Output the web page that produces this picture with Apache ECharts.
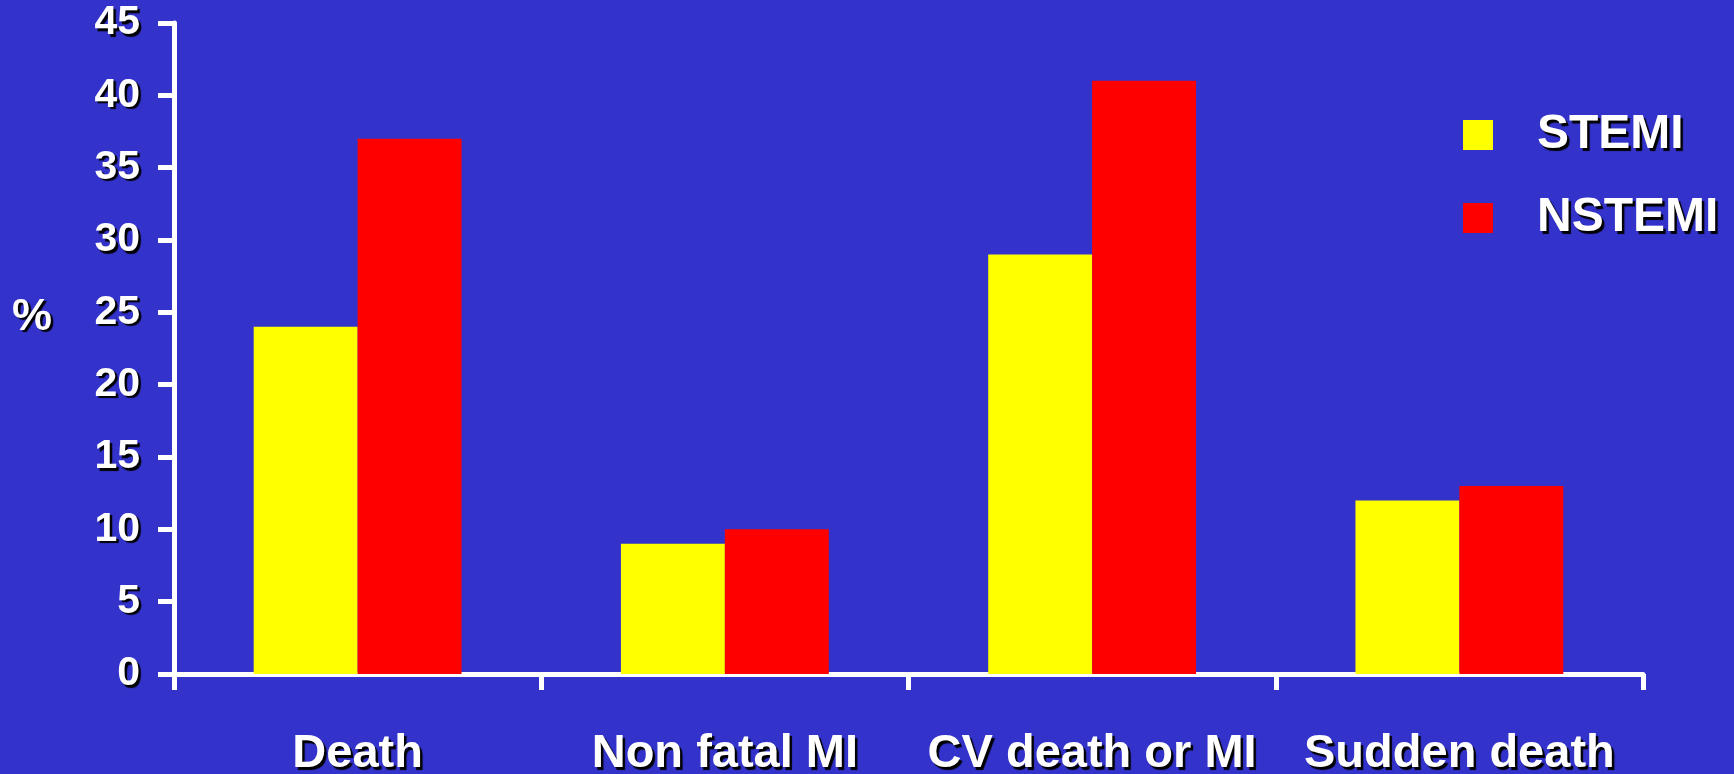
<!DOCTYPE html>
<html>
<head>
<meta charset="utf-8">
<script src="https://cdn.jsdelivr.net/npm/echarts@6/dist/echarts.min.js"></script>
<style>
html,body{margin:0;padding:0;background:#3333CC;}
#chart{width:1734px;height:774px;}
</style>
</head>
<body>
<div id="chart"></div>
<script>
const categories = ['Death', 'Non fatal MI', 'CV death or MI', 'Sudden death'];
const stemi = [24, 9, 29, 12];
const nstemi = [37, 10, 41, 13];
const yTicks = { min: 0, max: 45, interval: 5 };
const yName = '%';

const FONT = '"Liberation Sans", Arial, sans-serif';
const shadow = { textShadowColor: '#000', textShadowOffsetX: 2.5, textShadowOffsetY: 2.5, textShadowBlur: 1 };

const chart = echarts.init(document.getElementById('chart'), null, { renderer: 'canvas' });
chart.setOption({
  backgroundColor: '#3333CC',
  animation: false,
  grid: { left: 174, right: 91, top: 23, bottom: 100, containLabel: false, outerBoundsMode: 'none' },
  legend: {
    orient: 'vertical',
    left: 1463,
    top: 111,
    padding: 0,
    itemWidth: 30,
    itemHeight: 30,
    itemGap: 35,
    icon: 'rect',
    textStyle: Object.assign({ color: '#fff', fontSize: 48, fontWeight: 'bold', fontFamily: FONT, padding: [0, 0, 0, 39] }, shadow),
    data: ['STEMI', 'NSTEMI']
  },
  graphic: [{
    type: 'text', left: 12, top: 295,
    style: { text: yName, fill: '#fff', font: 'bold 45px ' + FONT, textShadowColor: '#000', textShadowOffsetX: 2.5, textShadowOffsetY: 2.5, textShadowBlur: 1 }
  }],
  xAxis: {
    type: 'category',
    data: categories,
    boundaryGap: true,
    axisLine: { show: true, lineStyle: { color: '#fff', width: 5 } },
    axisTick: { show: true, alignWithLabel: false, length: 16, lineStyle: { color: '#fff', width: 5 } },
    axisLabel: Object.assign({ color: '#fff', fontSize: 47, fontWeight: 'bold', fontFamily: FONT, margin: 57, interval: 0, hideOverlap: false }, shadow)
  },
  yAxis: {
    type: 'value',
    min: yTicks.min, max: yTicks.max, interval: yTicks.interval,
    axisLine: { show: true, lineStyle: { color: '#fff', width: 5 } },
    axisTick: { show: true, length: 16, lineStyle: { color: '#fff', width: 5 } },
    splitLine: { show: false },
    axisLabel: Object.assign({ color: '#fff', fontSize: 41, fontWeight: 'bold', fontFamily: FONT, margin: 34, padding: [19, 0, 0, 0] }, shadow)
  },
  series: [
    { name: 'STEMI', type: 'bar', data: stemi, itemStyle: { color: '#FFFF00' }, barGap: '0%', barCategoryGap: '43.4%' },
    { name: 'NSTEMI', type: 'bar', data: nstemi, itemStyle: { color: '#FF0000' }, barGap: '0%', barCategoryGap: '43.4%' }
  ]
});
</script>
</body>
</html>
